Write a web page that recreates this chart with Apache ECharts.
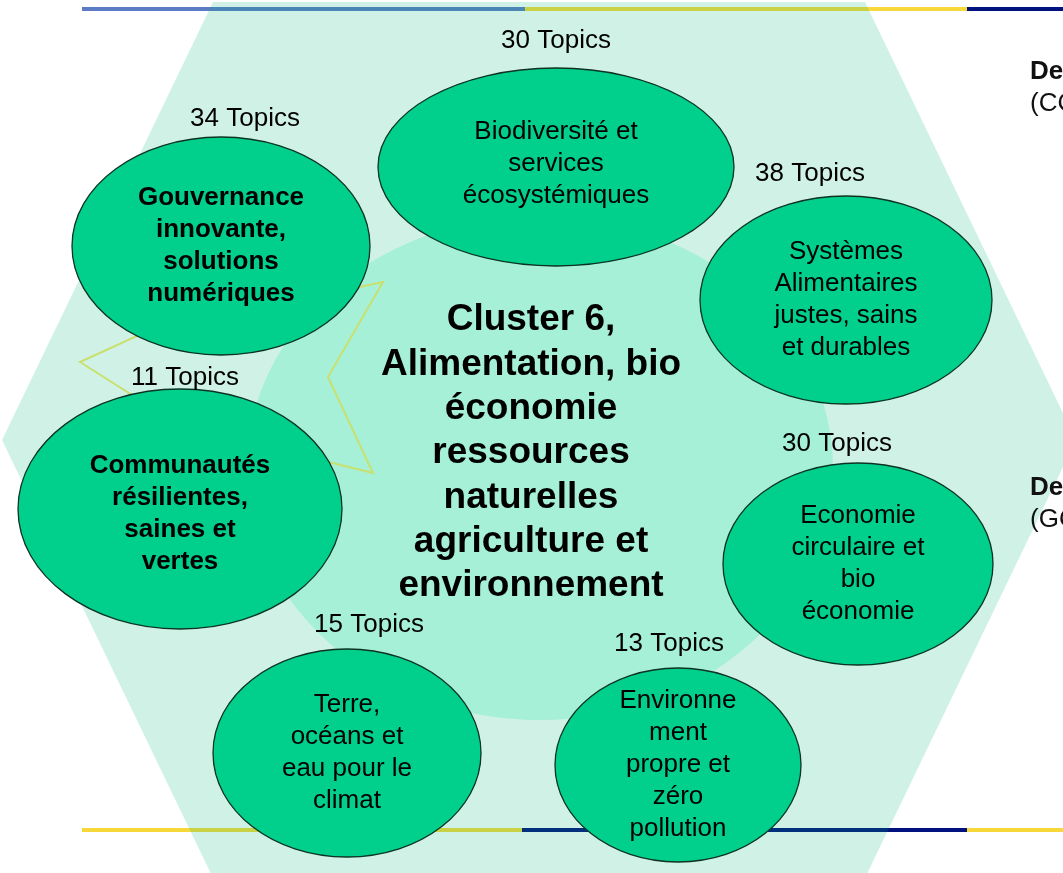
<!DOCTYPE html>
<html><head><meta charset="utf-8">
<script src="https://cdn.jsdelivr.net/npm/echarts@6/dist/echarts.min.js"></script>
<style>html,body{margin:0;padding:0;background:#fff}#c{width:1063px;height:873px}</style>
</head><body><div id="c"></div>
<script>
// ---------- content ----------
const clusterTitle = 'Cluster 6,\nAlimentation, bio\néconomie\nressources\nnaturelles\nagriculture et\nenvironnement';
const themes = [
  'Biodiversité et\nservices\nécosystémiques',
  'Gouvernance\ninnovante,\nsolutions\nnumériques',
  'Systèmes\nAlimentaires\njustes, sains\net durables',
  'Communautés\nrésilientes,\nsaines et\nvertes',
  'Economie\ncirculaire et\nbio\néconomie',
  'Terre,\nocéans et\neau pour le\nclimat',
  'Environne\nment\npropre et\nzéro\npollution'
];
const topicCounts = [30, 34, 38, 11, 30, 15, 13];
const boldThemes = [false, true, false, true, false, false, false];
const sideNotes = ['De', '(CO', 'De', '(GO'];

// ---------- layout (diagram coordinates) ----------
const themeCenters = [[556,167],[221,246],[846,300],[180,509],[858,564],[347,753],[678,765]];
const themeRadii   = [[178,99],[149,109],[146,104],[162,120],[135,101],[134,104],[123,97]];
const themeTextPos = [[556,164],[221,246],[846,300],[180,514],[858,564],[347,753],[678,765]];
const topicLabelPos = [[556,41],[245,119],[810,174],[185,378],[837,444],[369,625],[669,644]];
const corePos = [540,468], coreRadii = [293,252];
const titlePos = [531,453];
const hexagon = [[213,2],[865,2],[1076,440],[865,878],[213,878],[2,440]];
const bolt = [[80,362],[150,330],[300,300],[383,282],[328,377],[373,473],[300,455],[140,400]];
const sideNotePos = [[1030,72],[1030,104],[1030,488],[1030,520]];
const bands = [[82,525,9,0],[525,967,9,1],[967,1063,9,2],[82,522,830,1],[522,967,830,2],[967,1063,830,1]];
const bandColors = ['#5b7bc4','#f7d83a','#00127e'];

const FONT = '"Liberation Sans", Arial, Helvetica, sans-serif';

const chart = echarts.init(document.getElementById('c'), null, {renderer:'canvas'});

function ellipseEl(api, c, r, style) {
  const p = api.coord(c);
  const s = api.size(r);
  return {type:'ellipse', shape:{cx:p[0], cy:p[1], rx:Math.abs(s[0]), ry:Math.abs(s[1])}, style};
}
function textEl(api, pos, text, font, lh, extra) {
  const p = api.coord(pos);
  return {type:'text', x:p[0], y:p[1], style:Object.assign({
    text, font, fill:'#000', align:'center', verticalAlign:'middle',
    textAlign:'center', textVerticalAlign:'middle', lineHeight: lh
  }, extra||{})};
}

chart.setOption({
  animation:false,
  grid:{left:0,right:0,top:0,bottom:0},
  xAxis:{type:'value',min:0,max:1063,show:false},
  yAxis:{type:'value',min:0,max:873,inverse:true,show:false},
  series:[
    { type:'custom', name:'bands', z:1, data:bands,
      renderItem:(params, api) => {
        const b = bands[params.dataIndex];
        const a = api.coord([b[0], b[2]]), e = api.coord([b[1], b[2]]);
        return {type:'line', shape:{x1:a[0],y1:a[1],x2:e[0],y2:e[1]}, style:{stroke:bandColors[b[3]], lineWidth:4}};
      }},
    { type:'custom', name:'hexagon', z:2, data:[0],
      renderItem:(params, api) => ({type:'polygon', shape:{points:hexagon.map(p => api.coord(p))},
        style:{fill:'rgba(0,184,119,0.185)'}})},
    { type:'custom', name:'core', z:3, data:[0],
      renderItem:(params, api) => ellipseEl(api, corePos, coreRadii, {fill:'#a6f0d8'})},
    { type:'custom', name:'bolt', z:4, data:[0],
      renderItem:(params, api) => ({type:'polygon', shape:{points:bolt.map(p => api.coord(p))},
        style:{fill:'none', stroke:'#c8e070', lineWidth:2, lineJoin:'miter'}})},
    { type:'custom', name:'themes', z:5, data:themes.map((t,i)=>i),
      renderItem:(params, api) => {
        const i = params.dataIndex;
        return {type:'group', children:[
          ellipseEl(api, themeCenters[i], themeRadii[i], {fill:'#00d08c', stroke:'#0d3322', lineWidth:1.3}),
          textEl(api, themeTextPos[i], themes[i], (boldThemes[i]?'bold ':'') + '26px ' + FONT, 32)
        ]};
      }},
    { type:'custom', name:'topics', z:6, data:topicCounts,
      renderItem:(params, api) => {
        const i = params.dataIndex;
        return textEl(api, topicLabelPos[i], topicCounts[i] + ' Topics', '26px ' + FONT, 30);
      }},
    { type:'custom', name:'title', z:7, data:[0],
      renderItem:(params, api) => textEl(api, titlePos, clusterTitle, 'bold 37px ' + FONT, 44.3)},
    { type:'custom', name:'notes', z:7, data:sideNotes.map((t,i)=>i),
      renderItem:(params, api) => {
        const i = params.dataIndex;
        return textEl(api, sideNotePos[i], sideNotes[i], (i%2===0?'bold ':'') + '26px ' + FONT, 30,
          {align:'left', textAlign:'left', fill:'#111'});
      }}
  ]
});
</script>
</body></html>
